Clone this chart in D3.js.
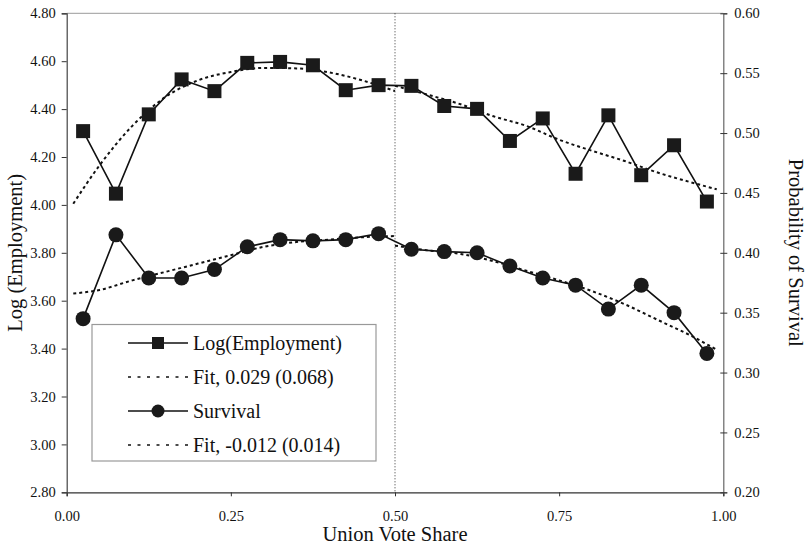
<!DOCTYPE html>
<html>
<head>
<meta charset="utf-8">
<script src="https://cdn.jsdelivr.net/npm/d3@7"></script>
<style>
  html, body { margin: 0; padding: 0; background: #fff; }
  svg { display: block; font-family: "Liberation Serif", "Times New Roman", serif; }
  svg text { font-family: "Liberation Serif", "Times New Roman", serif !important; }
</style>
</head>
<body>
<svg id="chart" width="811" height="546"></svg>
<script>
// ---- data ----
const binCenters = [0.025, 0.075, 0.125, 0.175, 0.225, 0.275, 0.325, 0.375, 0.425, 0.475,
                    0.525, 0.575, 0.625, 0.675, 0.725, 0.775, 0.825, 0.875, 0.925, 0.975];
const logEmployment = [4.308, 4.047, 4.378, 4.524, 4.475, 4.593, 4.597, 4.583, 4.479, 4.500,
                       4.497, 4.413, 4.401, 4.267, 4.361, 4.130, 4.374, 4.124, 4.249, 4.014];
const survival = [0.345, 0.415, 0.379, 0.379, 0.386, 0.405, 0.411, 0.410, 0.411, 0.416,
                  0.403, 0.401, 0.400, 0.389, 0.379, 0.373, 0.353, 0.373, 0.350, 0.316];

const fitLeftX  = [0.01, 0.05, 0.10, 0.15, 0.20, 0.25, 0.30, 0.35, 0.40, 0.45, 0.50];
const fitRightX = [0.50, 0.55, 0.60, 0.65, 0.70, 0.75, 0.80, 0.85, 0.90, 0.95, 0.99];
const empFitLeft  = [4.005, 4.165, 4.330, 4.450, 4.520, 4.555, 4.572, 4.570, 4.553, 4.520, 4.475];
const empFitRight = [4.497, 4.460, 4.420, 4.370, 4.330, 4.272, 4.226, 4.183, 4.135, 4.095, 4.065];
const survFitLeft  = [0.366, 0.369, 0.377, 0.384, 0.391, 0.398, 0.405, 0.409, 0.411, 0.413, 0.414];
const survFitRight = [0.406, 0.402, 0.399, 0.393, 0.385, 0.377, 0.368, 0.357, 0.344, 0.331, 0.319];

const xTicks = [0, 0.25, 0.5, 0.75, 1.0];
const leftTicks = [2.8, 3.0, 3.2, 3.4, 3.6, 3.8, 4.0, 4.2, 4.4, 4.6, 4.8];
const rightTicks = [0.20, 0.25, 0.30, 0.35, 0.40, 0.45, 0.50, 0.55, 0.60];
const threshold = 0.5;

const legendItems = [
  { label: "Log(Employment)", kind: "square" },
  { label: "Fit, 0.029 (0.068)", kind: "fit" },
  { label: "Survival", kind: "circle" },
  { label: "Fit, -0.012 (0.014)", kind: "fit" }
];

// ---- layout ----
const svg = d3.select("#chart");
const L = 66.7, R = 723.3, T = 13.3, B = 492.3;

const x = d3.scaleLinear().domain([0, 1]).range([L, R]);
const yL = d3.scaleLinear().domain([2.8, 4.8]).range([B, T]);
const yR = d3.scaleLinear().domain([0.2, 0.6]).range([B, T]);

// plot border (top, light)
svg.append("line").attr("x1", L).attr("x2", R).attr("y1", T).attr("y2", T)
  .attr("stroke", "#9a9a9a").attr("stroke-width", 1);

// threshold dotted line
svg.append("line").attr("x1", x(threshold)).attr("x2", x(threshold))
  .attr("y1", T).attr("y2", B)
  .attr("stroke", "#333").attr("stroke-width", 1).attr("stroke-dasharray", "1,2");

// axes
const fmt2 = d3.format(".2f");
const gx = svg.append("g").attr("transform", `translate(0,${B})`)
  .call(d3.axisBottom(x).tickValues(xTicks).tickFormat(fmt2).tickSize(4).tickPadding(14));
const gl = svg.append("g").attr("transform", `translate(${L},0)`)
  .call(d3.axisLeft(yL).tickValues(leftTicks).tickFormat(fmt2).tickSize(5).tickPadding(6));
const gr = svg.append("g").attr("transform", `translate(${R},0)`)
  .call(d3.axisRight(yR).tickValues(rightTicks).tickFormat(fmt2).tickSize(4).tickPadding(7));

[gx, gl, gr].forEach(g => {
  g.attr("font-family", null);
  g.selectAll("text").attr("font-size", 14.5).attr("fill", "#111");
  g.selectAll("line").attr("stroke", "#333");
});
gx.select(".domain").attr("stroke", "#333").attr("stroke-width", 1.2);
gl.select(".domain").attr("stroke", "#444").attr("stroke-width", 1.2);
gr.select(".domain").attr("stroke", "#666").attr("stroke-width", 1.2);
// right ticks cross the axis
gr.selectAll(".tick line").attr("x1", -3).attr("x2", 4);

// axis titles
svg.append("text").attr("x", x(0.5)).attr("y", 541)
  .attr("text-anchor", "middle").attr("font-size", 20.5).attr("fill", "#111")
  .text("Union Vote Share");
svg.append("text").attr("transform", `translate(22,${(T + B) / 2}) rotate(-90)`)
  .attr("text-anchor", "middle").attr("font-size", 20.5).attr("fill", "#111")
  .text("Log (Employment)");
svg.append("text").attr("transform", `translate(789,${(T + B) / 2}) rotate(90)`)
  .attr("text-anchor", "middle").attr("font-size", 20.5).attr("fill", "#111")
  .text("Probability of Survival");

// fit lines
const fitStyle = sel => sel.attr("fill", "none").attr("stroke", "#111")
  .attr("stroke-width", 2).attr("stroke-dasharray", "3,3");
const lineL = d3.line().x(d => x(d[0])).y(d => yL(d[1])).curve(d3.curveMonotoneX);
const lineR = d3.line().x(d => x(d[0])).y(d => yR(d[1])).curve(d3.curveMonotoneX);

svg.append("path").datum(d3.zip(fitLeftX, empFitLeft)).attr("d", lineL).call(fitStyle);
svg.append("path").datum(d3.zip(fitRightX, empFitRight)).attr("d", lineL).call(fitStyle);
svg.append("path").datum(d3.zip(fitLeftX, survFitLeft)).attr("d", lineR).call(fitStyle);
svg.append("path").datum(d3.zip(fitRightX, survFitRight)).attr("d", lineR).call(fitStyle);

// data lines
const straightL = d3.line().x(d => x(d[0])).y(d => yL(d[1]));
const straightR = d3.line().x(d => x(d[0])).y(d => yR(d[1]));
svg.append("path").datum(d3.zip(binCenters, logEmployment)).attr("d", straightL)
  .attr("fill", "none").attr("stroke", "#111").attr("stroke-width", 1.6);
svg.append("path").datum(d3.zip(binCenters, survival)).attr("d", straightR)
  .attr("fill", "none").attr("stroke", "#111").attr("stroke-width", 1.6);

// markers
const sq = 14;
svg.append("g").selectAll("rect").data(d3.zip(binCenters, logEmployment)).join("rect")
  .attr("x", d => x(d[0]) - sq / 2).attr("y", d => yL(d[1]) - sq / 2)
  .attr("width", sq).attr("height", sq).attr("fill", "#1a1a1a");
svg.append("g").selectAll("circle").data(d3.zip(binCenters, survival)).join("circle")
  .attr("cx", d => x(d[0])).attr("cy", d => yR(d[1])).attr("r", 7.5).attr("fill", "#1a1a1a");

// legend
const lg = svg.append("g");
lg.append("rect").attr("x", 92).attr("y", 324.5).attr("width", 284).attr("height", 136.5)
  .attr("fill", "#fff").attr("stroke", "#999").attr("stroke-width", 1.2);
const rowY = [343, 377, 411, 445];
legendItems.forEach((it, i) => {
  const yy = rowY[i];
  const ln = lg.append("line").attr("x1", 128).attr("x2", 188).attr("y1", yy).attr("y2", yy)
    .attr("stroke", "#111");
  if (it.kind === "fit") {
    ln.attr("stroke-width", 1.5).attr("stroke-dasharray", "3,6.5");
  } else {
    ln.attr("stroke-width", 1.6);
  }
  if (it.kind === "square") {
    lg.append("rect").attr("x", 158 - 6).attr("y", yy - 6).attr("width", 12).attr("height", 12).attr("fill", "#1a1a1a");
  } else if (it.kind === "circle") {
    lg.append("circle").attr("cx", 158).attr("cy", yy).attr("r", 6.5).attr("fill", "#1a1a1a");
  }
  lg.append("text").attr("x", 193).attr("y", yy + 7).attr("font-size", 20).attr("fill", "#111")
    .text(it.label);
});
</script>
</body>
</html>
